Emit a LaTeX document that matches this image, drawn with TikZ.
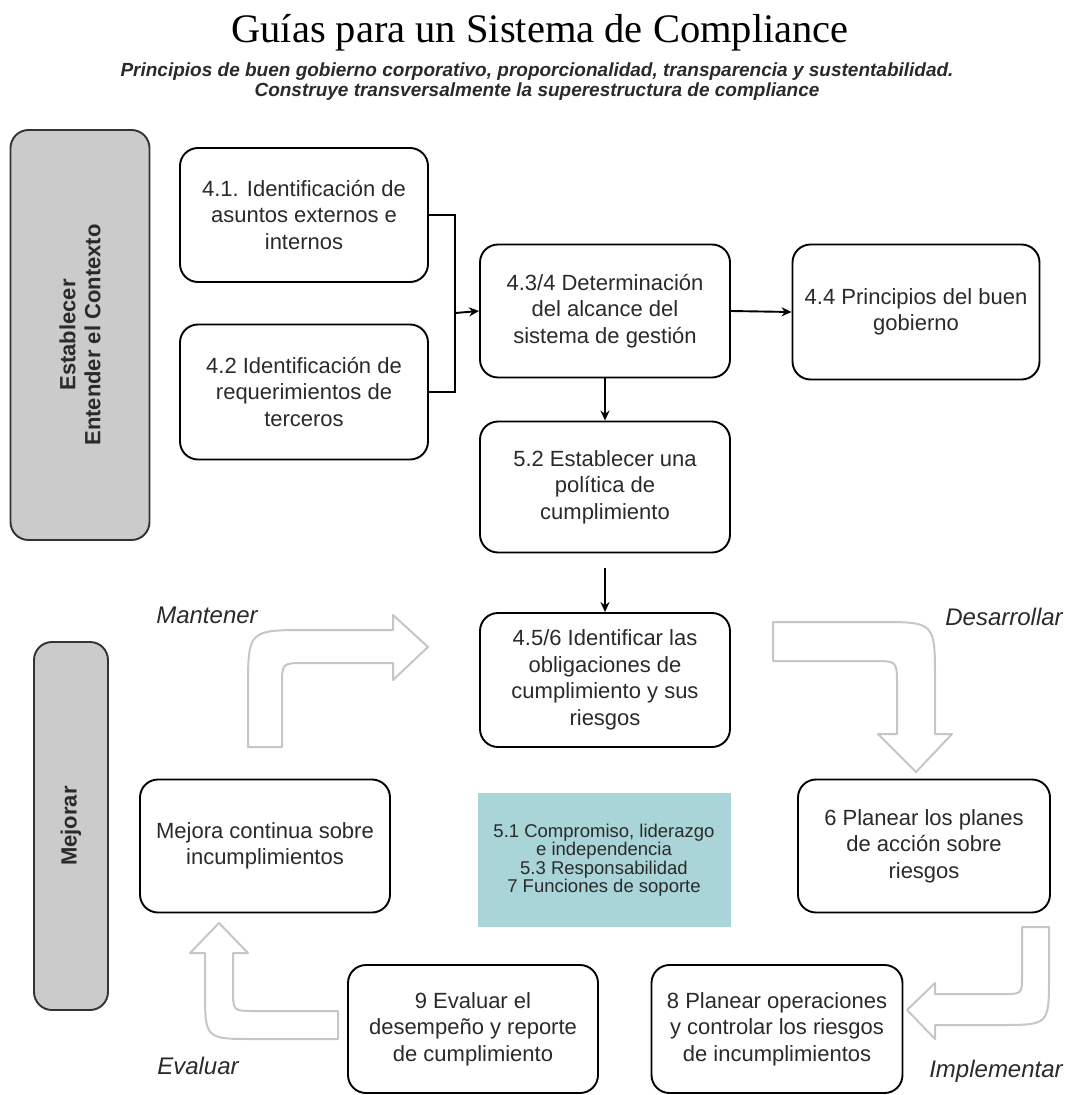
\documentclass[tikz,border=0pt]{standalone}
\usepackage{fontspec}
\setmainfont{Liberation Sans}
\newfontfamily\titlefont{Liberation Serif}
\usepackage{tikz}
\usetikzlibrary{arrows.meta,positioning}
\definecolor{BoxText}{HTML}{2A2A2A}
\definecolor{SideGray}{HTML}{CBCBCB}
\definecolor{BaseCyan}{HTML}{A9D5D8}
\definecolor{HollowGray}{HTML}{C6C6C6}

\begin{document}
\begin{tikzpicture}[x=1pt,y=-1pt,>={Stealth[length=10pt,width=9pt]},
    every node/.style={font=\fontsize{22}{26.5}\selectfont, text=BoxText},
    stepbox/.style={draw=black, line width=1.9pt, rounded corners=18pt, fill=white, align=center, inner sep=0pt},
    sidebox/.style={draw=black!80, line width=1.9pt, rounded corners=18pt, fill=SideGray, inner sep=0pt},
    hollow/.style={draw=HollowGray, line width=2pt, fill=white, line join=round},
    phase/.style={font=\itshape\fontsize{24}{28}\selectfont, text=BoxText}]
        \useasboundingbox (0,0) rectangle (1073,1095);

        % titulo
        \node[font=\titlefont\fontsize{40.5}{44}\selectfont, text=black] (title) at (540,33) {Guías para un Sistema de Compliance};
        \node[font=\bfseries\itshape\fontsize{19}{20}\selectfont, align=center] (subtitle) at (537,82)
            {Principios de buen gobierno corporativo, proporcionalidad, transparencia y sustentabilidad.\\
             Construye transversalmente la superestructura de compliance};

        % bloques laterales
        \node[sidebox, minimum width=139pt, minimum height=410pt] (est) at (80,335) {};
        \node[font=\bfseries\fontsize{22}{25}\selectfont, rotate=90, align=center] at (est.center) {Establecer\\Entender el Contexto};
        \node[sidebox, minimum width=74pt, minimum height=368pt] (mej) at (71,826) {};
        \node[font=\bfseries\fontsize{22}{25}\selectfont, rotate=90] at (mej.center) {Mejorar};

        % contexto
        \node[stepbox, minimum width=248pt, minimum height=134pt] (n41) at (304,215) {4.1. Identificación de\\asuntos externos e\\internos};
        \node[stepbox, minimum width=248pt, minimum height=135pt] (n42) at (304,392) {4.2 Identificación de\\requerimientos de\\terceros};
        \node[stepbox, minimum width=250pt, minimum height=133pt] (n434) at (605,311) {4.3/4 Determinación\\del alcance del\\sistema de gestión};
        \node[stepbox, minimum width=247pt, minimum height=135pt] (n44) at (916,312) {4.4 Principios del buen\\gobierno};
        \node[stepbox, minimum width=250pt, minimum height=131pt] (n52) at (605,487) {5.2 Establecer una\\política de\\cumplimiento};

        % ciclo
        \node[stepbox, minimum width=250pt, minimum height=134pt] (n456) at (605,680) {4.5/6 Identificar las\\obligaciones de\\cumplimiento y sus\\riesgos};
        \node[stepbox, minimum width=252pt, minimum height=133pt] (n6) at (924,846) {6 Planear los planes\\de acción sobre\\riesgos};
        \node[stepbox, minimum width=251pt, minimum height=128pt] (n8) at (777,1029) {8 Planear operaciones\\y controlar los riesgos\\de incumplimientos};
        \node[stepbox, minimum width=250pt, minimum height=128pt] (n9) at (473,1029) {9 Evaluar el\\desempeño y reporte\\de cumplimiento};
        \node[stepbox, minimum width=250pt, minimum height=133pt] (nmej) at (265,846) {Mejora continua sobre\\incumplimientos};
        \node[fill=BaseCyan, minimum width=253pt, minimum height=134pt, align=center, font=\fontsize{18.5}{18.5}\selectfont] (base) at (604,860)
            {5.1 Compromiso, liderazgo\\e independencia\\5.3 Responsabilidad\\7 Funciones de soporte};

        % conectores
        \coordinate (jn) at (455,313);
        \draw[line width=1.9pt] (n41.east) -| (jn);
        \draw[line width=1.9pt] (n42.east) -| (jn);
        \draw[->, line width=1.9pt] (jn) -- (n434.west);
        \draw[->, line width=1.9pt] (n434.east) -- (n44.west);
        \draw[->, line width=1.9pt] (n434) -- (n52);
        \draw[->, line width=1.9pt, shorten <=15pt] (n52) -- (n456);

        % flechas huecas
        \draw[hollow] (248,747) -- (248,690) .. controls (248,630) .. (308,630) -- (393,630) -- (393,615)
            -- (428,647) -- (393,680) -- (393,663) -- (305,663) .. controls (282,663) .. (282,686) -- (282,747) -- cycle;
        \draw[hollow] (773,622) -- (878,622) .. controls (935,622) .. (935,679) -- (935,734) -- (952,734)
            -- (916,772) -- (878,734) -- (897,734) -- (897,685) .. controls (897,661) .. (873,661) -- (773,661) -- cycle;
        \draw[hollow] (1022,927) -- (1022,975) .. controls (1022,994) .. (1003,994) -- (935,994) -- (935,983)
            -- (907,1010) -- (935,1039) -- (935,1025) -- (1000,1025) .. controls (1049,1025) .. (1049,976) -- (1049,927) -- cycle;
        \draw[hollow] (338,1011) -- (255,1011) .. controls (233,1011) .. (233,989) -- (233,953) -- (248,953)
            -- (219,923) -- (190,953) -- (205,953) -- (205,990) .. controls (205,1039) .. (254,1039) -- (338,1039) -- cycle;

        \node[phase] (mant) at (207,615) {Mantener};
        \node[phase] (desa) at (1004,617) {Desarrollar};
        \node[phase] (eval) at (198,1066) {Evaluar};
        \node[phase] (impl) at (996,1071) {Implementar};
    \end{tikzpicture}
\end{document}
